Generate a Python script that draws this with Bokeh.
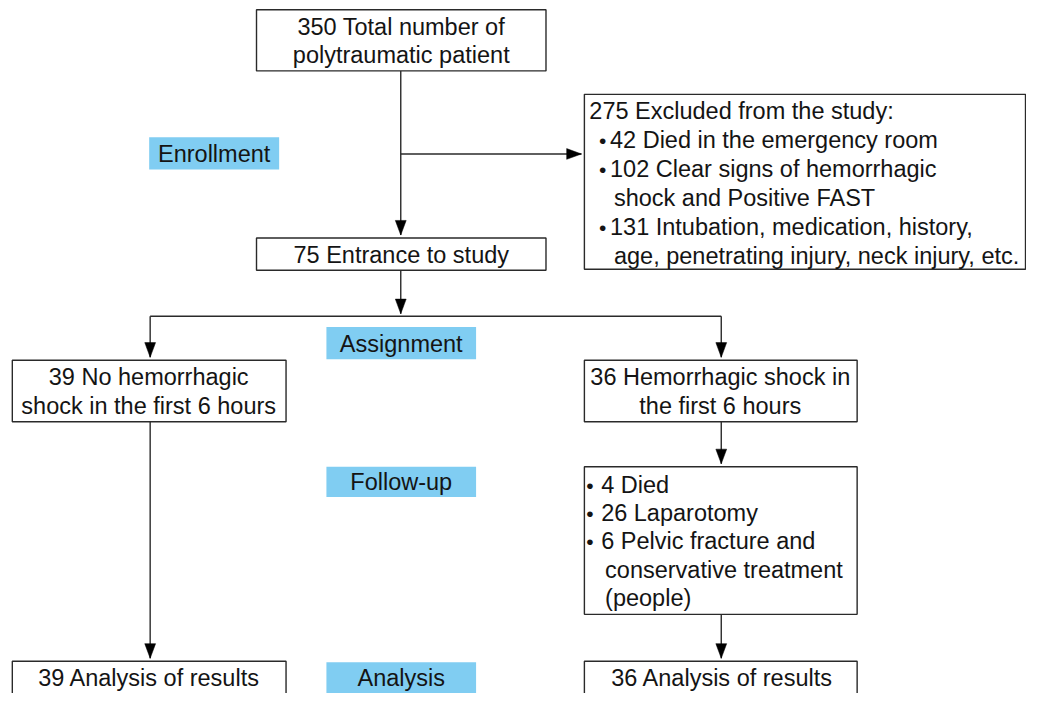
from bokeh.plotting import figure
from bokeh.models import Range1d
from bokeh.core.properties import value
from bokeh.embed import file_html
from bokeh.resources import INLINE

# ---- chart content (texts) ----
stage_labels = ["Enrollment", "Assignment", "Follow-up", "Analysis"]
top_box_lines = ["350 Total number of", "polytraumatic patient"]
entrance_lines = ["75 Entrance to study"]
excluded_title = ["275 Excluded from the study:"]
excluded_items = ["42 Died in the emergency room",
                  "102 Clear signs of hemorrhagic",
                  "131 Intubation, medication, history,"]
excluded_cont = ["shock and Positive FAST",
                 "age, penetrating injury, neck injury, etc."]
no_shock_lines = ["39 No hemorrhagic", "shock in the first 6 hours"]
shock_lines = ["36 Hemorrhagic shock in", "the first 6 hours"]
followup_items = ["4 Died", "26 Laparotomy", "6 Pelvic fracture and"]
followup_cont = ["conservative treatment", "(people)"]
result_left = ["39 Analysis of results"]
result_right = ["36 Analysis of results"]

# ---- layout (reference pixel space) ----
FONT = value("Liberation Sans")
FS = "23.5px"
TXT = "#141414"
LINE = "#2a2a2a"
BLUE = "#80cdf2"

p = figure(width=1026, height=693, output_backend="svg", toolbar_location=None,
           x_range=Range1d(0, 1042), y_range=Range1d(709, 0),
           min_border=0, min_border_left=0, min_border_right=0,
           min_border_top=0, min_border_bottom=0)
p.axis.visible = False
p.grid.visible = False
p.outline_line_color = None
p.background_fill_color = "white"

# stage label backgrounds
lab_l = [151, 331, 331, 331]
lab_r = [283, 483, 483, 483]
lab_t = [140, 334, 477, 677]
lab_b = [173, 367, 508, 715]
p.quad(left=lab_l, right=lab_r, top=lab_t, bottom=lab_b, fill_color=BLUE, line_color=None)
p.text(x=[(a + b) / 2 for a, b in zip(lab_l, lab_r)], y=[157, 351, 492.5, 693.5],
       text=stage_labels, text_align="center", text_baseline="middle",
       text_font=FONT, text_font_size=FS, text_color=TXT)

# boxes
bx_l = [260, 260, 593, 12, 593, 593, 12, 593]
bx_r = [554, 554, 1041, 290, 870, 870, 290, 870]
bx_t = [9.5, 243, 96, 368, 368, 477, 676, 676]
bx_b = [72, 276, 275, 431, 431, 628, 720, 720]
p.quad(left=bx_l, right=bx_r, top=bx_t, bottom=bx_b, fill_color="white",
       line_color=LINE, line_width=1.4)

# connectors: (x0, y0, x1, y1, arrow)
conns = [(406.5, 72, 406.5, 240, True),
         (406.5, 157, 590, 157, True),
         (406.5, 276, 406.5, 320.5, True),
         (152, 323, 732, 323, False),
         (152, 323, 152, 365, True),
         (732, 323, 732, 365, True),
         (732, 431, 732, 474, True),
         (732, 628, 732, 673, True),
         (152, 431, 152, 673, True)]
p.segment(x0=[c[0] for c in conns], y0=[c[1] for c in conns],
          x1=[c[2] for c in conns], y1=[c[3] for c in conns],
          line_color=LINE, line_width=1.4)
hx, hy = [], []
L, W = 15, 5.5
for x0, y0, x1, y1, a in conns:
    if not a:
        continue
    if x0 == x1:
        hx.append([x1, x1 - W, x1 + W]); hy.append([y1, y1 - L, y1 - L])
    else:
        hx.append([x1, x1 - L, x1 - L]); hy.append([y1, y1 - W, y1 + W])
p.patches(xs=hx, ys=hy, fill_color="black", line_color="black", line_width=0.5)

def center_text(xs, ys, lines, size=FS):
    p.text(x=xs, y=ys, text=lines, text_align="center", text_baseline="middle",
           text_font=FONT, text_font_size=size, text_color=TXT)

def left_text(xs, ys, lines):
    p.text(x=xs, y=ys, text=lines, text_align="left", text_baseline="middle",
           text_font=FONT, text_font_size=FS, text_color=TXT)

center_text([407, 407], [27.5, 56], top_box_lines)
center_text([407], [260.5], entrance_lines)
center_text([150.5, 150.5], [385.5, 414.5], no_shock_lines)
center_text([731, 731], [385.5, 414.5], shock_lines)
center_text([151], [693.5], result_left)
center_text([733], [693.5], result_right)

# excluded box
left_text([598], [113], excluded_title)
ex_y = [143, 172.5, 231.5]
center_text([611.5] * 3, [y + 0.5 for y in ex_y], ["\u2022"] * 3, size="21px")
left_text([619] * 3, ex_y, excluded_items)
left_text([623, 623], [202, 261], excluded_cont)

# follow-up box
fu_y = [495.5, 524, 553]
center_text([598.5] * 3, [y + 0.5 for y in fu_y], ["\u2022"] * 3, size="21px")
left_text([610] * 3, fu_y, followup_items)
left_text([614, 614], [582.5, 611.5], followup_cont)

open("out.html", "w").write(file_html(p, INLINE))
